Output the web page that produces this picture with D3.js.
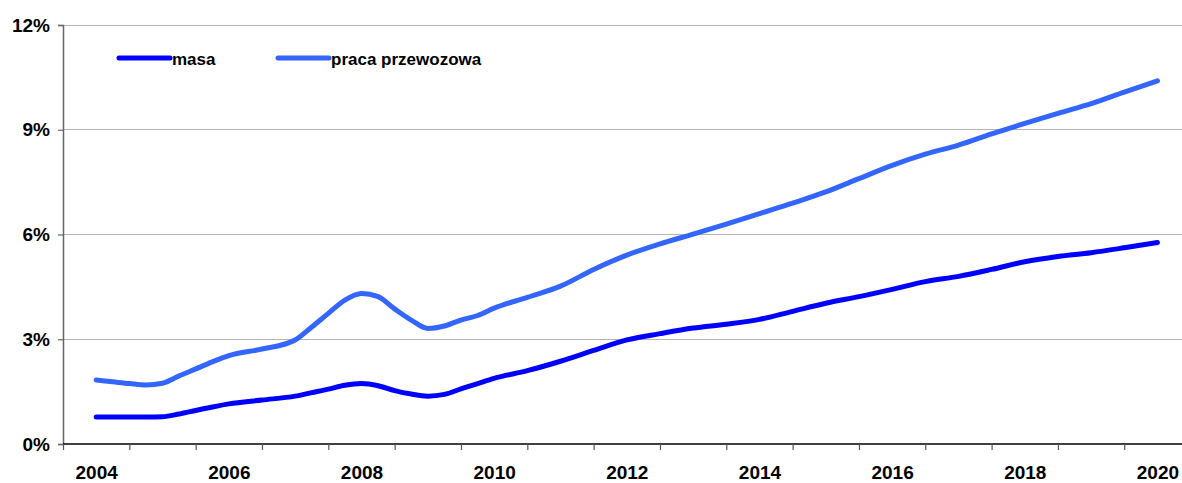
<!DOCTYPE html>
<html>
<head>
<meta charset="utf-8">
<script src="https://cdn.jsdelivr.net/npm/d3@7"></script>
<style>
  html, body { margin: 0; padding: 0; background: #fff; }
  svg { display: block; font-family: "Liberation Sans", Arial, sans-serif; }
</style>
</head>
<body>
<svg id="chart" width="1182" height="483"></svg>
<script>
// Time points (fractional years)
const periods = [
  2004, 2004.25, 2004.5, 2004.75, 2005, 2005.25, 2005.5, 2005.75,
  2006, 2006.5, 2007, 2007.25, 2007.5, 2007.75, 2008, 2008.25,
  2008.5, 2008.75, 2009, 2009.25, 2009.5, 2009.75, 2010, 2010.5,
  2011, 2011.5, 2012, 2012.5, 2013, 2013.5, 2014, 2014.5,
  2015, 2015.5, 2016, 2016.5, 2017, 2017.5, 2018, 2018.5,
  2019, 2019.5, 2020
];

// Share in % - mass
const masa = [
  0.77, 0.77, 0.77, 0.77, 0.78, 0.86, 0.96, 1.06,
  1.15, 1.26, 1.37, 1.47, 1.57, 1.68, 1.73, 1.67,
  1.53, 1.43, 1.37, 1.42, 1.58, 1.73, 1.88, 2.10,
  2.37, 2.68, 2.98, 3.16, 3.32, 3.43, 3.57, 3.80,
  4.03, 4.22, 4.43, 4.65, 4.80, 5.00, 5.22, 5.37,
  5.48, 5.62, 5.77
];

// Share in % - transport work
const praca = [
  1.83, 1.78, 1.73, 1.69, 1.74, 1.95, 2.15, 2.35,
  2.53, 2.72, 2.98, 3.35, 3.74, 4.12, 4.31, 4.22,
  3.87, 3.55, 3.31, 3.38, 3.55, 3.68, 3.89, 4.20,
  4.52, 5.00, 5.41, 5.73, 6.01, 6.30, 6.60, 6.90,
  7.22, 7.60, 7.98, 8.30, 8.56, 8.88, 9.18, 9.47,
  9.75, 10.08, 10.40
];

const yTicks = [0, 3, 6, 9, 12];
const yearLabels = [2004, 2006, 2008, 2010, 2012, 2014, 2016, 2018, 2020];
const seriesNames = ["masa", "praca przewozowa"];

const svg = d3.select("#chart");
const W = 1182;

const x = d3.scaleLinear().domain([2003.5, 2020.5]).range([63, 1190.6]);
const y = d3.scaleLinear().domain([0, 12]).range([444, 25]);

// Horizontal gridlines
svg.append("g")
  .selectAll("line")
  .data(yTicks.filter(d => d > 0))
  .join("line")
  .attr("x1", x(2003.5)).attr("x2", W)
  .attr("y1", d => y(d)).attr("y2", d => y(d))
  .attr("stroke", "#b4b4b4").attr("stroke-width", 1)
  .attr("shape-rendering", "crispEdges");

// Y axis
const yAxis = svg.append("g")
  .attr("transform", `translate(${x(2003.5)},0)`)
  .call(d3.axisLeft(y).tickValues(yTicks).tickSize(5).tickPadding(8).tickFormat(d => d + "%"));
yAxis.select(".domain").attr("stroke", "#666").attr("stroke-width", 1.5);
yAxis.selectAll(".tick line").attr("stroke", "#666").attr("stroke-width", 1.2);
yAxis.selectAll(".tick text")
  .attr("font-family", "Liberation Sans, Arial, sans-serif")
  .attr("font-size", 19).attr("font-weight", "bold").attr("fill", "#000");

// X axis: tick marks between years
const tickPos = d3.range(2003.5, 2020.5, 1);
const xAxis = svg.append("g")
  .attr("transform", `translate(0,${y(0)})`)
  .call(d3.axisBottom(x).tickValues(tickPos).tickSize(6).tickFormat(""));
xAxis.select(".domain").attr("stroke", "#000").attr("stroke-width", 1.6)
  .attr("d", `M${x(2003.5)},0H${W}`);
xAxis.selectAll(".tick line").attr("stroke", "#555").attr("stroke-width", 1.2);

// X labels centred on years
const xLab = svg.append("g")
  .attr("transform", `translate(0,${y(0)})`)
  .call(d3.axisBottom(x).tickValues(yearLabels).tickSize(0).tickPadding(22).tickFormat(d3.format("d")));
xLab.select(".domain").remove();
xLab.selectAll(".tick text")
  .attr("font-family", "Liberation Sans, Arial, sans-serif")
  .attr("font-size", 19).attr("font-weight", "bold").attr("fill", "#000");

// Lines
const colors = ["#0000ff", "#3366ff"];
const series = [masa, praca];
const line = d3.line()
  .x((d, i) => x(periods[i]))
  .y(d => y(d))
  .curve(d3.curveMonotoneX);

svg.append("g")
  .selectAll("path")
  .data(series)
  .join("path")
  .attr("d", d => line(d))
  .attr("fill", "none")
  .attr("stroke", (d, i) => colors[i])
  .attr("stroke-width", 5)
  .attr("stroke-linecap", "round")
  .attr("stroke-linejoin", "round");

// Legend
const legendX = [119, 278];
const legend = svg.append("g");
seriesNames.forEach((name, i) => {
  legend.append("line")
    .attr("x1", legendX[i]).attr("x2", legendX[i] + 51)
    .attr("y1", 58).attr("y2", 58)
    .attr("stroke", colors[i]).attr("stroke-width", 5)
    .attr("stroke-linecap", "round");
  legend.append("text")
    .attr("x", legendX[i] + 53).attr("y", 59)
    .attr("dy", "0.35em")
    .attr("font-size", 17).attr("font-weight", "bold").attr("fill", "#000")
    .text(name);
});
</script>
</body>
</html>
